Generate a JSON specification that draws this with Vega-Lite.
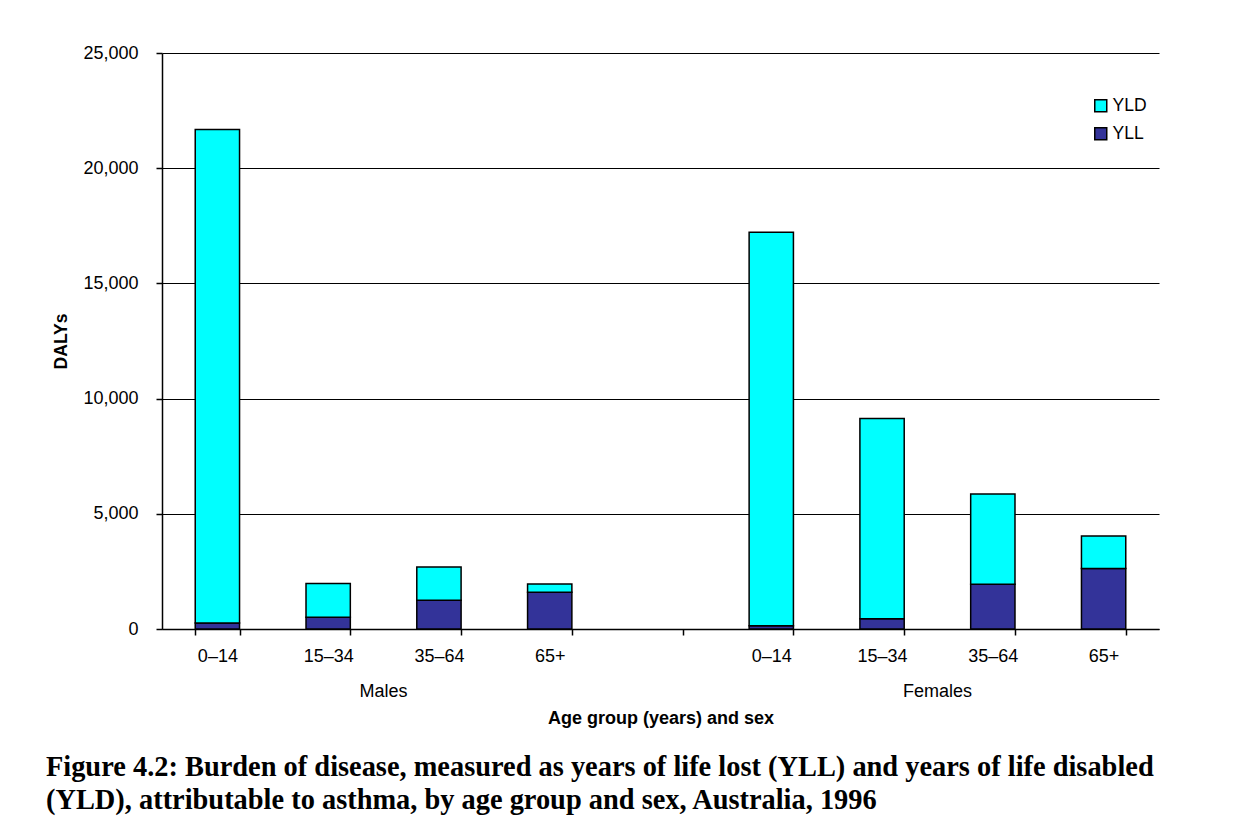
{
  "$schema": "https://vega.github.io/schema/vega-lite/v6.json",
  "width": 997,
  "height": 576,
  "autosize": {"type": "none"},
  "padding": {"left": 162, "top": 53, "right": 77, "bottom": 196},
  "background": "white",
  "config": {
    "font": "Liberation Sans",
    "view": {"stroke": null},
    "axis": {"labelFont": "Liberation Sans", "titleFont": "Liberation Sans", "labelColor": "black", "titleColor": "black"}
  },
  "title": {
    "text": ["Figure 4.2: Burden of disease, measured as years of life lost (YLL) and years of life disabled", "(YLD), attributable to asthma, by age group and sex, Australia, 1996"],
    "orient": "bottom",
    "anchor": "start",
    "frame": "bounds",
    "font": "Liberation Serif",
    "fontSize": 28.4,
    "fontWeight": "bold",
    "color": "black",
    "lineHeight": 33,
    "offset": 27,
    "dx": -7
  },
  "layer": [
    {
      "data": {
        "values": [
          {"slot": "M|0–14", "sex": "Males", "age": "0–14", "type": "YLL", "dalys": 260},
          {"slot": "M|0–14", "sex": "Males", "age": "0–14", "type": "YLD", "dalys": 21420},
          {"slot": "M|15–34", "sex": "Males", "age": "15–34", "type": "YLL", "dalys": 510},
          {"slot": "M|15–34", "sex": "Males", "age": "15–34", "type": "YLD", "dalys": 1470},
          {"slot": "M|35–64", "sex": "Males", "age": "35–64", "type": "YLL", "dalys": 1245},
          {"slot": "M|35–64", "sex": "Males", "age": "35–64", "type": "YLD", "dalys": 1445},
          {"slot": "M|65+", "sex": "Males", "age": "65+", "type": "YLL", "dalys": 1600},
          {"slot": "M|65+", "sex": "Males", "age": "65+", "type": "YLD", "dalys": 350},
          {"slot": "F|0–14", "sex": "Females", "age": "0–14", "type": "YLL", "dalys": 140},
          {"slot": "F|0–14", "sex": "Females", "age": "0–14", "type": "YLD", "dalys": 17080},
          {"slot": "F|15–34", "sex": "Females", "age": "15–34", "type": "YLL", "dalys": 440},
          {"slot": "F|15–34", "sex": "Females", "age": "15–34", "type": "YLD", "dalys": 8700},
          {"slot": "F|35–64", "sex": "Females", "age": "35–64", "type": "YLL", "dalys": 1940},
          {"slot": "F|35–64", "sex": "Females", "age": "35–64", "type": "YLD", "dalys": 3920},
          {"slot": "F|65+", "sex": "Females", "age": "65+", "type": "YLL", "dalys": 2630},
          {"slot": "F|65+", "sex": "Females", "age": "65+", "type": "YLD", "dalys": 1410}
        ]
      },
      "mark": {"type": "bar", "stroke": "black", "strokeWidth": 1.5},
      "encoding": {
        "x": {
          "field": "slot",
          "type": "nominal",
          "scale": {
            "domain": ["M|0–14", "M|15–34", "M|35–64", "M|65+", "gap", "F|0–14", "F|15–34", "F|35–64", "F|65+"],
            "paddingInner": 0.6,
            "paddingOuter": 0.3
          },
          "axis": {
            "title": "Age group (years) and sex",
            "titleFontSize": 18,
            "titleFontWeight": "bold",
            "titlePadding": 44,
            "labelExpr": "datum.value == 'gap' ? '' : split(datum.value, '|')[1]",
            "labelAngle": 0,
            "labelFontSize": 18,
            "labelPadding": 12,
            "tickBand": "extent",
            "tickSize": 6,
            "tickColor": "black",
            "tickWidth": 1.5,
            "domainColor": "black",
            "domainWidth": 1.5,
            "grid": false
          }
        },
        "y": {
          "field": "dalys",
          "type": "quantitative",
          "stack": "zero",
          "scale": {"domain": [0, 25000], "nice": false},
          "axis": {
            "title": "DALYs",
            "titleFontSize": 17.5,
            "titleFontWeight": "bold",
            "titlePadding": 12,
            "values": [0, 5000, 10000, 15000, 20000, 25000],
            "format": ",.0f",
            "labelFontSize": 18,
            "labelPadding": 18,
            "tickSize": 6,
            "tickColor": "black",
            "tickWidth": 1.5,
            "domainColor": "black",
            "domainWidth": 1.5,
            "grid": true,
            "gridColor": "black",
            "gridWidth": 1.2,
            "gridOpacity": 1
          }
        },
        "color": {
          "field": "type",
          "type": "nominal",
          "scale": {"domain": ["YLD", "YLL"], "range": ["#00FFFF", "#333399"]},
          "legend": {
            "title": null,
            "orient": "none",
            "legendX": 930,
            "legendY": 44,
            "symbolType": "square",
            "symbolSize": 144,
            "symbolStrokeColor": "black",
            "symbolStrokeWidth": 1.5,
            "symbolOpacity": 1,
            "labelFontSize": 17.5,
            "labelColor": "black",
            "labelOffset": 3,
            "rowPadding": 9
          }
        },
        "order": {"field": "type", "sort": "descending"}
      }
    },
    {
      "data": {
        "values": [
          {"slot": "M|35–64", "sex": "Males"},
          {"slot": "F|35–64", "sex": "Females"}
        ]
      },
      "mark": {"type": "text", "fontSize": 18, "color": "black", "baseline": "middle", "dy": 63},
      "encoding": {
        "x": {"field": "slot", "type": "nominal", "bandPosition": -0.75},
        "y": {"datum": 0, "type": "quantitative"},
        "text": {"field": "sex"}
      }
    }
  ]
}
